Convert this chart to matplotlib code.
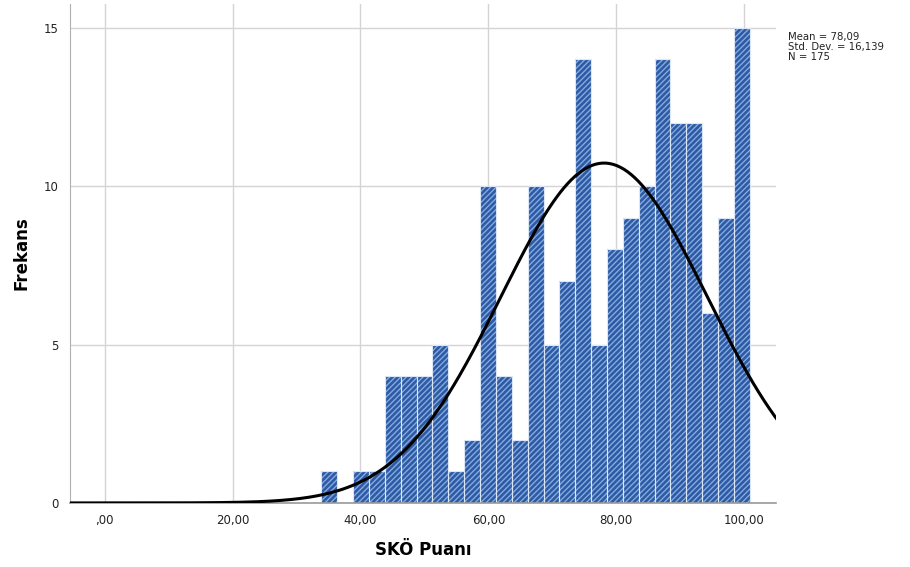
import matplotlib
matplotlib.use('Agg')
import matplotlib.pyplot as plt
import numpy as np

plt.rcParams['font.family'] = ['DejaVu Sans']
plt.rcParams['hatch.linewidth'] = 1.0

# histogram bins and counts
bin_start = 33.9
bin_width = 2.48
counts = [1, 0, 1, 1, 4, 4, 4, 5, 1, 2, 10, 4, 2, 10, 5,
          7, 14, 5, 8, 9, 10, 14, 12, 12, 6, 9, 15]
mean_val = 78.09
std_val = 16.139
n_val = 175
xticks = [0, 20, 40, 60, 80, 100]
xtick_labels = [',00', '20,00', '40,00', '60,00', '80,00', '100,00']
yticks = [0, 5, 10, 15]

edges = bin_start + bin_width * np.arange(len(counts) + 1)
lefts = edges[:-1]

fig = plt.figure(figsize=(9.1, 5.67), dpi=100)
ax = fig.add_axes([0.077, 0.113, 0.776, 0.880])

ax.set_axisbelow(True)
ax.grid(True, color='#d4d4d4', linewidth=1)

# bars with diagonal hatch, then thin light outlines
ax.bar(lefts, counts, width=bin_width, align='edge', color='#2c5aa4',
       edgecolor='#86a9de', linewidth=0, hatch='//////')
ax.bar(lefts, counts, width=bin_width, align='edge', fill=False,
       edgecolor='#dbe7f7', linewidth=0.8)

# normal curve scaled to counts
xs = np.linspace(-5.4, 105, 400)
ys = n_val * bin_width / (std_val * np.sqrt(2 * np.pi)) * np.exp(-0.5 * ((xs - mean_val) / std_val) ** 2)
ax.plot(xs, ys, color='black', linewidth=2.2, zorder=5)

ax.set_xlim(-5.4, 105)
ax.set_ylim(0, 15.75)
ax.set_xticks(xticks)
ax.set_xticklabels(xtick_labels)
ax.set_yticks(yticks)
ax.tick_params(length=0, labelsize=8.5, colors='#222222', pad=8)
for s in ['top', 'right']:
    ax.spines[s].set_visible(False)
ax.spines['left'].set_color('#b0b0b0')
ax.spines['bottom'].set_color('#9a9a9a')
ax.spines['bottom'].set_linewidth(1.2)

ax.set_xlabel('SKÖ Puanı', fontsize=12, fontweight='bold', labelpad=10)
ax.set_ylabel('Frekans', fontsize=12, fontweight='bold', labelpad=10)

fig.text(0.866, 0.944, 'Mean = 78,09\nStd. Dev. = 16,139\nN = 175',
         fontsize=7.3, va='top', ha='left', linespacing=1.0, color='#222222')

fig.savefig('out.png', dpi=100)
